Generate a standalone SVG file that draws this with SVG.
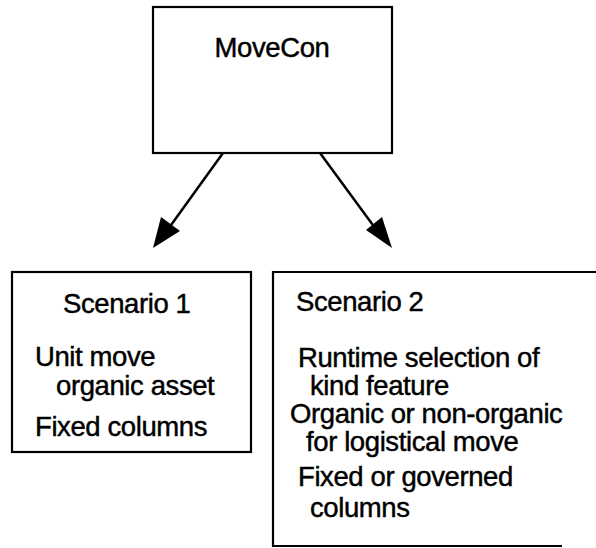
<svg xmlns="http://www.w3.org/2000/svg" width="596" height="548" viewBox="0 0 596 548">
<style>
.box{fill:#fff;stroke:#000;stroke-width:2.2}
.edge{fill:none;stroke:#000;stroke-width:2.5}
text{font-family:"Liberation Sans",Arial,sans-serif;font-size:27.5px;fill:#000;stroke:#000;stroke-width:0.45;letter-spacing:-0.4px}
</style>
<rect width="596" height="548" fill="#fff"/>
<g id="connectors">
<line class="edge" x1="223" y1="153" x2="166" y2="232"/>
<polygon points="153,248 161,217 180,231" fill="#000"/>
<line class="edge" x1="320" y1="153" x2="378" y2="232"/>
<polygon points="392,248 366,230 382,217" fill="#000"/>
</g>
<g id="movecon">
<rect class="box" x="153" y="7" width="239" height="146"/>
<text x="272" y="57" text-anchor="middle">MoveCon</text>
</g>
<g id="scenario1">
<rect class="box" x="12" y="272" width="239" height="180"/>
<text x="63" y="313">Scenario 1</text>
<text x="35" y="366">Unit move</text>
<text x="56" y="395">organic asset</text>
<text x="35" y="436">Fixed columns</text>
</g>
<g id="scenario2">
<path class="box" d="M596,272 H273 V546 H562" style="fill:none"/>
<text x="296" y="311">Scenario 2</text>
<text x="298" y="367">Runtime selection of</text>
<text x="310" y="395">kind feature</text>
<text x="290" y="423">Organic or non-organic</text>
<text x="306" y="451">for logistical move</text>
<text x="298" y="486">Fixed or governed</text>
<text x="310" y="517">columns</text>
</g>
</svg>
